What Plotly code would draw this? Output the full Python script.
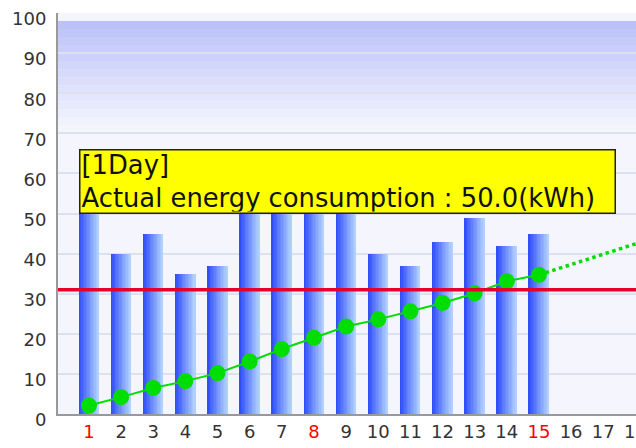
import plotly.graph_objects as go

# Daily energy use (kWh) for the first half of the month
days = list(range(1, 16))
usage = [50.0, 40, 45, 35, 37, 56, 53, 55, 51, 40, 37, 43, 49, 42, 45]

# Running total line (solid) and its projection (dotted)
cumulative = [2.1, 4.2, 6.5, 8.2, 10.2, 13.1, 16.2, 19.0, 21.8, 23.6, 25.6, 27.7, 30.1, 33.1, 34.7]
forecast_days = [15, 16, 17, 18, 19]
forecast = [34.7, 37.3, 39.8, 42.4, 45.0]

target = 31.0

tick_days = list(range(1, 32))
sundays = [1, 8, 15, 22, 29]
tick_text = [f"<span style='color:#ff0000'>{d}</span>" if d in sundays else str(d) for d in tick_days]
y_ticks = list(range(0, 101, 10))

fig = go.Figure()

# bars with a horizontal blue gradient, built from thin side-by-side slices
bar_w = 0.62
n_slices = 14
c_left = (48, 78, 250)
c_right = (176, 208, 255)
for i in range(n_slices):
    t = i / (n_slices - 1)
    col = tuple(round(a + (b - a) * t) for a, b in zip(c_left, c_right))
    fig.add_trace(go.Bar(
        x=days, y=usage,
        width=bar_w / n_slices + 0.004,
        offset=-bar_w / 2 + i * bar_w / n_slices,
        marker=dict(color=f"rgb{col}", line=dict(width=0)),
        showlegend=False, hoverinfo="skip",
    ))

fig.add_hline(y=target, line=dict(color="#e4002b", width=3.5), layer="above")

fig.add_trace(go.Scatter(
    x=forecast_days, y=forecast, mode="lines",
    line=dict(color="#00dd00", width=3.5, dash="dot"),
    showlegend=False, hoverinfo="skip",
))
fig.add_trace(go.Scatter(
    x=days, y=cumulative, mode="lines+markers",
    line=dict(color="#00dd00", width=2),
    marker=dict(color="#00dd00", size=16),
    showlegend=False, hoverinfo="skip",
))

# soft blue fade at the top of the plot area
shapes = []
top = (184, 190, 248)
bottom = (244, 246, 254)
y_hi, y_lo, step = 100, 70, 2
n = (y_hi - y_lo) // step
for k in range(n):
    t = k / (n - 1)
    col = tuple(round(a + (b - a) * t) for a, b in zip(top, bottom))
    y1 = y_hi - k * step
    shapes.append(dict(type="rect", xref="paper", yref="y", x0=0, x1=1,
                       y0=y1 - step, y1=y1, fillcolor=f"rgb{col}",
                       line=dict(width=0), layer="below"))

fig.update_layout(
    width=636, height=448,
    margin=dict(l=58, r=0, t=13, b=34),
    paper_bgcolor="white", plot_bgcolor="#f5f6fd",
    barmode="overlay", bargap=0,
    shapes=shapes,
    font=dict(family="DejaVu Sans", color="#333333"),
    xaxis=dict(
        range=[0.0355, 18.02], tickvals=tick_days, ticktext=tick_text,
        showgrid=False, zeroline=False, showline=True, linecolor="#999999", linewidth=2,
        ticks="", tickfont=dict(size=18, color="#333333"), ticklabeloverflow="allow",
        automargin=False,
    ),
    yaxis=dict(
        range=[0, 100], tickvals=y_ticks, showgrid=True, gridcolor="#dde1ef", gridwidth=2,
        zeroline=False, showline=True, linecolor="#999999", linewidth=2,
        ticks="", tickfont=dict(size=18, color="#333333"), ticklabelshift=6,
        ticklabelstandoff=6, ticklabeloverflow="allow", automargin=False,
    ),
    annotations=[dict(
        xref="x", yref="y", x=days[0] - bar_w / 2, y=usage[0],
        xanchor="left", yanchor="bottom",
        text=f"[{days[0]}Day]<br>Actual energy consumption : {usage[0]:.1f}(kWh)",
        align="left", showarrow=False,
        font=dict(family="DejaVu Sans", size=25.8, color="#111111"),
        bgcolor="#ffff00", bordercolor="#222222", borderwidth=1.5, borderpad=1,
        width=532, height=60,
    )],
)

fig.write_html("out.html")
